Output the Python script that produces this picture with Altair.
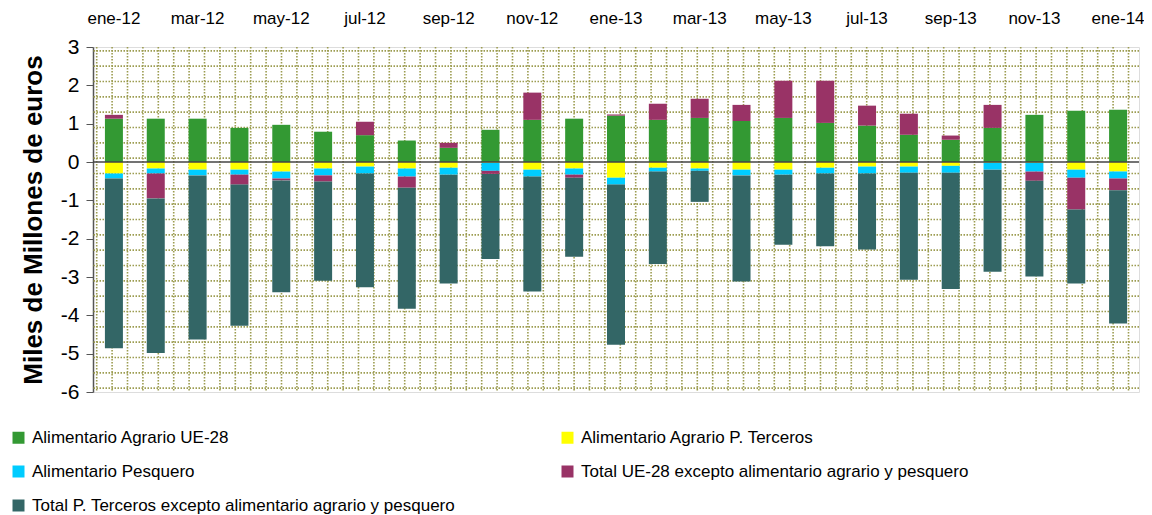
import altair as alt
import pandas as pd
import numpy as np

months = ["ene-12", "feb-12", "mar-12", "abr-12", "may-12", "jun-12", "jul-12", "ago-12",
          "sep-12", "oct-12", "nov-12", "dic-12", "ene-13", "feb-13", "mar-13", "abr-13",
          "may-13", "jun-13", "jul-13", "ago-13", "sep-13", "oct-13", "nov-13", "dic-13", "ene-14"]

series = ["Alimentario Agrario UE-28",
          "Alimentario Agrario P. Terceros",
          "Alimentario Pesquero",
          "Total UE-28 excepto alimentario agrario y pesquero",
          "Total P. Terceros excepto alimentario agrario y pesquero"]

agr_ue = [1.13, 1.13, 1.13, 0.89, 0.97, 0.79, 0.70, 0.56, 0.37, 0.84, 1.10, 1.13, 1.21,
          1.10, 1.15, 1.07, 1.15, 1.02, 0.95, 0.71, 0.58, 0.89, 1.23, 1.34, 1.36]
agr_pt = [-0.30, -0.17, -0.20, -0.20, -0.25, -0.17, -0.12, -0.17, -0.15, -0.02, -0.20, -0.17, -0.41,
          -0.15, -0.17, -0.20, -0.20, -0.15, -0.12, -0.12, -0.10, -0.02, -0.02, -0.20, -0.25]
pesq = [-0.13, -0.13, -0.15, -0.13, -0.18, -0.18, -0.18, -0.21, -0.18, -0.21, -0.18, -0.16, -0.18,
        -0.10, -0.06, -0.15, -0.13, -0.15, -0.18, -0.16, -0.18, -0.18, -0.23, -0.21, -0.18]
tot_ue = [0.10, -0.65, 0.0, -0.26, -0.05, -0.16, 0.35, -0.29, 0.13, -0.08, 0.71, -0.08, 0.03,
          0.42, 0.50, 0.42, 0.97, 1.10, 0.52, 0.55, 0.11, 0.60, -0.24, -0.83, -0.31]
tot_pt = [-4.43, -4.03, -4.28, -3.68, -2.92, -2.59, -2.97, -3.16, -2.84, -2.22, -3.00, -2.06, -4.18,
          -2.41, -0.81, -2.77, -1.83, -1.90, -1.98, -2.79, -3.03, -2.66, -2.50, -1.93, -3.47]

colors = ["#339933", "#ffff00", "#00ccff", "#993366", "#336666"]

rows = []
for si, (name, vals) in enumerate(zip(series, [agr_ue, agr_pt, pesq, tot_ue, tot_pt])):
    for m, v in zip(months, vals):
        rows.append({"mes": m, "serie": name, "valor": v, "orden": si})
df = pd.DataFrame(rows)

FONT = "Liberation Sans"
W, H = 1046, 345
YT = "Miles de Millones de euros"

yscale = alt.Scale(domain=[-6, 3], nice=False)
yaxis = alt.Axis(title=YT, values=list(range(-6, 4)), labelExpr="'' + datum.value",
                 labelFont=FONT, labelFontSize=21, labelColor="#000000",
                 titleFont=FONT, titleFontSize=26, titleFontWeight="bold",
                 titleColor="#000000", titlePadding=14, tickSize=7,
                 tickColor="#555555", domainColor="#555555", domainWidth=1.5,
                 labelPadding=7, grid=False)

# decorative dotted background pattern
gy = pd.DataFrame({"gy": np.round(2.9 - 0.4 * np.arange(23), 2)})
gx = pd.DataFrame({"gx": 3.7 + 15.4 * np.arange(68)})
gridc = "#9c9c50"

hgrid = alt.Chart(gy).mark_rule(color=gridc, strokeDash=[1.5, 1.5], strokeWidth=1.6).encode(
    y=alt.Y("gy:Q", scale=yscale, axis=yaxis, title=YT)
)
vgrid = alt.Chart(gx).mark_rule(color=gridc, strokeDash=[1.5, 1.5], strokeWidth=1.6).encode(
    x=alt.X("gx:Q", scale=alt.Scale(domain=[0, W], nice=False, zero=False), axis=None)
)

bars = alt.Chart(df).mark_bar(size=18).encode(
    x=alt.X("mes:N", sort=months, scale=alt.Scale(paddingInner=0, paddingOuter=0),
            axis=alt.Axis(orient="top", title=None, values=months[::2], labelAngle=0,
                          ticks=False, domain=False, labelFont=FONT, labelFontSize=17,
                          labelColor="#000000", labelPadding=20)),
    y=alt.Y("valor:Q", stack="zero", scale=yscale, axis=yaxis, title=YT),
    color=alt.Color("serie:N", scale=alt.Scale(domain=series, range=colors),
                    legend=alt.Legend(title=None, orient="none", legendX=-83, legendY=382,
                                      columns=2, direction="horizontal",
                                      columnPadding=103, rowPadding=16,
                                      symbolType="square", symbolSize=144, symbolStrokeWidth=0,
                                      symbolOpacity=1, labelFont=FONT, labelFontSize=17,
                                      labelColor="#000000", labelLimit=700, labelOffset=5)),
    order=alt.Order("orden:Q"),
)

zero = alt.Chart(pd.DataFrame({"z": [0]})).mark_rule(color="#444444", strokeWidth=1.5).encode(
    y=alt.Y("z:Q", scale=yscale, axis=yaxis, title=YT)
)

chart = alt.layer(hgrid, vgrid, bars, zero).resolve_scale(x="independent").properties(
    width=W, height=H,
    autosize=alt.AutoSizeParams(type="none"),
    padding={"left": 85, "top": 39, "right": 5, "bottom": 123},
).configure_view(stroke="#a6a6a6", strokeWidth=2).configure(background="white")

chart.save("out.html", embed_options={"renderer": "svg", "actions": False})
